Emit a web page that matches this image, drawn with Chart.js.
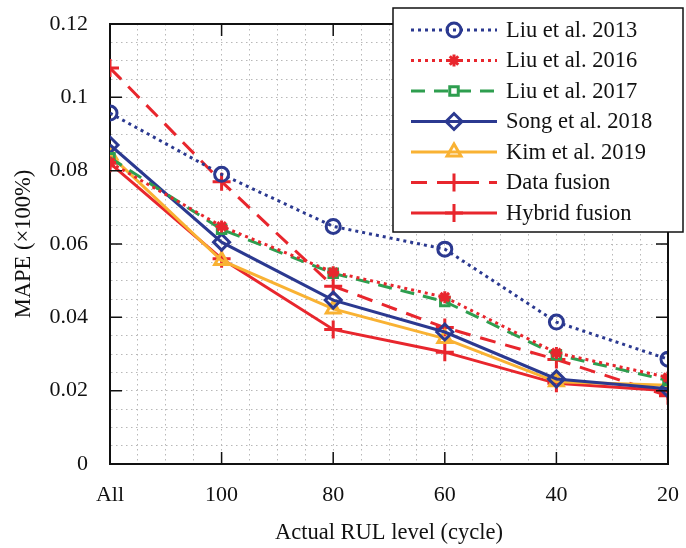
<!DOCTYPE html>
<html>
<head>
<meta charset="utf-8">
<script src="https://cdn.jsdelivr.net/npm/chart.js@4"></script>
<style>
  html, body { margin: 0; padding: 0; background: #fff; }
  #wrap { width: 686px; height: 548px; }
</style>
</head>
<body>
<div id="wrap"><canvas id="myChart" width="686" height="548"></canvas></div>
<script>
const categories = ['All', '100', '80', '60', '40', '20'];
const liu2013 = [0.0957, 0.0790, 0.0648, 0.0586, 0.0387, 0.0286];
const liu2016 = [0.0822, 0.0648, 0.0523, 0.0455, 0.0303, 0.0236];
const liu2017 = [0.0835, 0.0640, 0.0520, 0.0443, 0.0298, 0.0228];
const song2018 = [0.0870, 0.0605, 0.0447, 0.0360, 0.0232, 0.0205];
const kim2019 = [0.0843, 0.0555, 0.0423, 0.0342, 0.0224, 0.0215];
const dataFusion = [0.1080, 0.0770, 0.0485, 0.0372, 0.0285, 0.0186];
const hybridFusion = [0.0820, 0.0560, 0.0367, 0.0305, 0.0220, 0.0200];

const blue = '#2b3990';
const red = '#e8262d';
const green = '#2e9e4f';
const orange = '#f9b233';
const serif = "'Liberation Serif', 'Times New Roman', serif";

function pts(arr) {
    return arr.map((v, i) => ({ x: i, y: v }));
}

function series(label, values, color, dash, style, radius) {
    return {
        label: label,
        data: pts(values),
        borderColor: color,
        borderWidth: 3,
        borderDash: dash,
        pointStyle: style,
        pointRadius: radius,
        pointHoverRadius: radius,
        pointBorderWidth: 3,
        pointBorderColor: color,
        pointBackgroundColor: 'rgba(0,0,0,0)',
        fill: false,
        tension: 0
    };
}

const datasets = [
    series('Liu et al. 2013', liu2013, blue, [3, 4], 'circle', 7),
    series('Liu et al. 2016', liu2016, red, [3, 4], 'star', 6),
    series('Liu et al. 2017', liu2017, green, [14, 9], 'rect', 6),
    series('Song et al. 2018', song2018, blue, [], 'rectRot', 8),
    series('Kim et al. 2019', kim2019, orange, [], 'triangle', 8),
    series('Data fusion', dataFusion, red, [16, 10], 'cross', 9),
    series('Hybrid fusion', hybridFusion, red, [], 'cross', 9)
];

// inward ticks, top/right frame and the boxed legend
const framePlugin = {
    id: 'frame',
    afterDraw(chart) {
        const ctx = chart.ctx;
        const a = chart.chartArea;
        const xs = chart.scales.x, ys = chart.scales.y;
        ctx.save();
        ctx.strokeStyle = '#111';
        ctx.lineWidth = 2;
        ctx.beginPath();
        ctx.moveTo(a.left, a.top); ctx.lineTo(a.right, a.top); ctx.lineTo(a.right, a.bottom);
        ctx.stroke();
        ctx.lineWidth = 1.5;
        ctx.beginPath();
        for (let i = 1; i < categories.length - 1; i++) {
            const px = xs.getPixelForValue(i);
            ctx.moveTo(px, a.bottom); ctx.lineTo(px, a.bottom - 12);
            ctx.moveTo(px, a.top); ctx.lineTo(px, a.top + 12);
        }
        for (let v = 0.02; v < 0.119; v += 0.02) {
            const py = ys.getPixelForValue(v);
            ctx.moveTo(a.left, py); ctx.lineTo(a.left + 12, py);
            ctx.moveTo(a.right, py); ctx.lineTo(a.right - 12, py);
        }
        ctx.stroke();

        // legend
        const bx = 393, by = 8, bw = 290, bh = 224;
        ctx.fillStyle = '#fff';
        ctx.fillRect(bx, by, bw, bh);
        ctx.lineWidth = 1.5;
        ctx.strokeStyle = '#111';
        ctx.strokeRect(bx, by, bw, bh);
        ctx.font = '22.5px ' + serif;
        ctx.textBaseline = 'middle';
        chart.data.datasets.forEach((ds, i) => {
            const y = 30 + i * 30.5;
            ctx.save();
            ctx.strokeStyle = ds.borderColor;
            ctx.lineWidth = ds.borderWidth;
            ctx.setLineDash(ds.borderDash);
            ctx.beginPath();
            ctx.moveTo(411, y); ctx.lineTo(497, y);
            ctx.stroke();
            ctx.setLineDash([]);
            ctx.fillStyle = 'rgba(0,0,0,0)';
            ctx.lineWidth = ds.pointBorderWidth;
            Chart.helpers.drawPoint(ctx, {
                pointStyle: ds.pointStyle, radius: ds.pointRadius,
                borderWidth: ds.pointBorderWidth, rotation: 0
            }, 454, y);
            ctx.restore();
            ctx.fillStyle = '#111';
            ctx.fillText(ds.label, 506, y + 1);
        });
        ctx.restore();
    }
};

const config = {
    type: 'line',
    data: { datasets: datasets },
    options: {
        responsive: false,
        animation: false,
        layout: { padding: { top: 24, right: 18, left: 0, bottom: 0 } },
        plugins: { legend: { display: false }, tooltip: { enabled: false } },
        scales: {
            x: {
                type: 'linear',
                min: 0,
                max: categories.length - 1,
                afterFit(scale) {
                    scale.height = 84;
                    scale.paddingLeft = 0;
                    scale.paddingRight = 0;
                },
                ticks: {
                    stepSize: 0.25,
                    autoSkip: false,
                    maxRotation: 0,
                    padding: 18,
                    color: '#111',
                    font: { family: serif, size: 22 },
                    callback: function (v) {
                        return Number.isInteger(v) ? categories[v] : '';
                    }
                },
                grid: { color: '#b8b8b8', lineWidth: 1, drawTicks: false },
                border: { display: true, color: '#111', width: 2, dash: [1.5, 3.5] },
                title: {
                    display: true,
                    text: 'Actual RUL level (cycle)',
                    color: '#111',
                    font: { family: serif, size: 22.5 },
                    padding: { top: 0, bottom: 1 }
                }
            },
            y: {
                min: 0,
                max: 0.12,
                afterFit(scale) {
                    scale.width = 110;
                    scale.paddingTop = 0;
                    scale.paddingBottom = 0;
                },
                ticks: {
                    stepSize: 0.005,
                    autoSkip: false,
                    padding: 22,
                    color: '#111',
                    font: { family: serif, size: 22 },
                    callback: function (v) {
                        const k = Math.round(v / 0.005);
                        if (k % 4 !== 0) return '';
                        return String(+(k * 0.005).toFixed(2));
                    }
                },
                grid: { color: '#b8b8b8', lineWidth: 1, drawTicks: false },
                border: { display: true, color: '#111', width: 2, dash: [1.5, 3.5] },
                title: {
                    display: true,
                    text: 'MAPE (×100%)',
                    color: '#111',
                    font: { family: serif, size: 22.5 },
                    padding: { top: 11, bottom: 0 }
                }
            }
        }
    },
    plugins: [framePlugin]
};

const ctx = document.getElementById('myChart').getContext('2d');
const myChart = new Chart(ctx, config);
</script>
</body>
</html>
